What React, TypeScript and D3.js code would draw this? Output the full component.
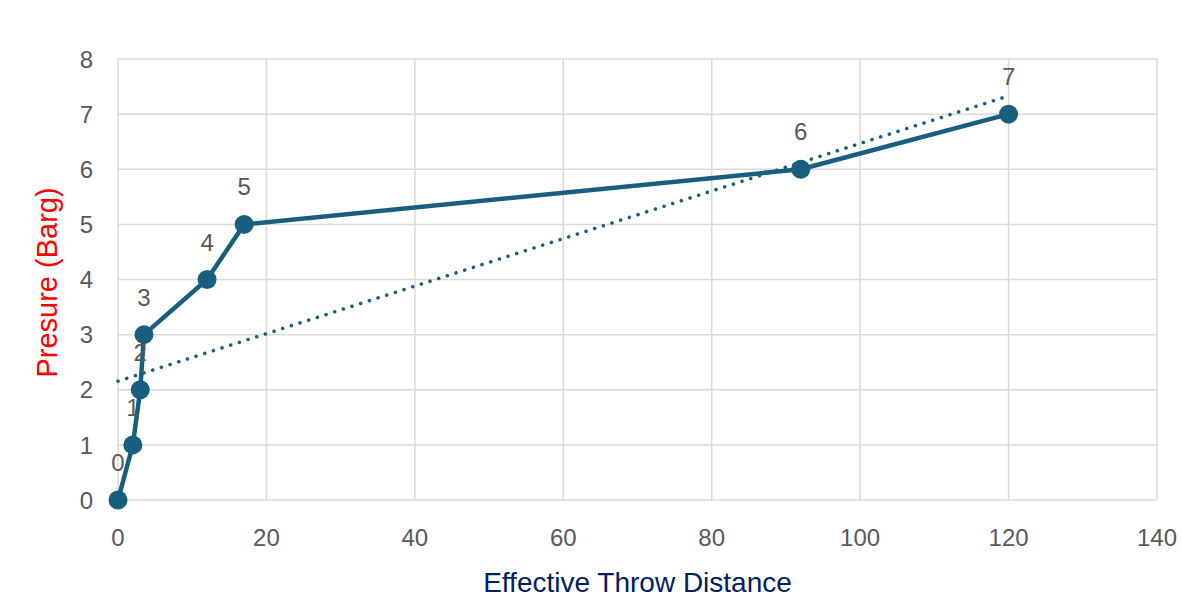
import { FC, useEffect, useRef } from 'react';
import * as d3 from 'd3';

const distances = [0, 2, 3, 3.5, 12, 17, 92, 120];
const pressures = [0, 1, 2, 3, 4, 5, 6, 7];
const xTicks = [0, 20, 40, 60, 80, 100, 120, 140];
const yTicks = [0, 1, 2, 3, 4, 5, 6, 7, 8];

const WIDTH = 1182;
const HEIGHT = 610;
const LINE_COLOR = '#175e7f';
const TEXT_COLOR = '#595959';
const FONT = '"Liberation Sans", Arial, sans-serif';

const App: FC = () => {
  const ref = useRef<SVGSVGElement>(null);

  useEffect(() => {
    const margin = { top: 59, right: 25, bottom: 110, left: 118 };
    const w = WIDTH - margin.left - margin.right;
    const h = HEIGHT - margin.top - margin.bottom;

    const root = d3.select(ref.current);
    root.selectAll('*').remove();
    const svg = root.append('g').attr('transform', `translate(${margin.left},${margin.top})`);

    const xScale = d3.scaleLinear().domain([0, 140]).range([0, w]);
    const yScale = d3.scaleLinear().domain([0, 8]).range([h, 0]);

    //Grid
    svg
      .append('g')
      .selectAll('line')
      .data(xTicks)
      .join('line')
      .attr('x1', (d) => xScale(d))
      .attr('x2', (d) => xScale(d))
      .attr('y1', 0)
      .attr('y2', h)
      .attr('stroke', '#d9d9d9')
      .attr('stroke-width', 1.5);
    svg
      .append('g')
      .selectAll('line')
      .data(yTicks)
      .join('line')
      .attr('x1', 0)
      .attr('x2', w)
      .attr('y1', (d) => yScale(d))
      .attr('y2', (d) => yScale(d))
      .attr('stroke', '#d9d9d9')
      .attr('stroke-width', 1.5);

    //Tick labels
    svg
      .append('g')
      .selectAll('text')
      .data(xTicks)
      .join('text')
      .attr('x', (d) => xScale(d))
      .attr('y', h + 46)
      .attr('text-anchor', 'middle')
      .attr('font-family', FONT)
      .attr('font-size', 24)
      .attr('fill', TEXT_COLOR)
      .text((d) => d);
    svg
      .append('g')
      .selectAll('text')
      .data(yTicks)
      .join('text')
      .attr('x', -25)
      .attr('y', (d) => yScale(d))
      .attr('dy', '0.36em')
      .attr('text-anchor', 'end')
      .attr('font-family', FONT)
      .attr('font-size', 24)
      .attr('fill', TEXT_COLOR)
      .text((d) => d);

    //Axis titles
    svg
      .append('text')
      .attr('x', w / 2)
      .attr('y', h + 92)
      .attr('text-anchor', 'middle')
      .attr('font-family', FONT)
      .attr('font-size', 28)
      .attr('fill', '#002060')
      .text('Effective Throw Distance');
    svg
      .append('text')
      .attr('transform', `translate(-61,${h / 2 + 3}) rotate(-90)`)
      .attr('text-anchor', 'middle')
      .attr('font-family', FONT)
      .attr('font-size', 29)
      .attr('fill', '#ff0000')
      .text('Presure (Barg)');

    const data = distances.map((x, i) => ({ x, y: pressures[i] }));

    //Linear trendline (least squares)
    const mx = d3.mean(distances) as number;
    const my = d3.mean(pressures) as number;
    const sxy = d3.sum(data, (d) => (d.x - mx) * (d.y - my));
    const sxx = d3.sum(data, (d) => (d.x - mx) ** 2);
    const slope = sxy / sxx;
    const intercept = my - slope * mx;
    const xMax = d3.max(distances) as number;
    svg
      .append('line')
      .attr('x1', xScale(0))
      .attr('y1', yScale(intercept))
      .attr('x2', xScale(xMax))
      .attr('y2', yScale(intercept + slope * xMax))
      .attr('stroke', LINE_COLOR)
      .attr('stroke-width', 3.5)
      .attr('stroke-linecap', 'round')
      .attr('stroke-dasharray', '0.1 9');

    //Series line
    const line = d3
      .line<{ x: number; y: number }>()
      .x((d) => xScale(d.x))
      .y((d) => yScale(d.y));
    svg
      .append('path')
      .datum(data)
      .attr('fill', 'none')
      .attr('stroke', LINE_COLOR)
      .attr('stroke-width', 4.5)
      .attr('stroke-linejoin', 'round')
      .attr('d', line);

    svg
      .append('g')
      .selectAll('circle')
      .data(data)
      .join('circle')
      .attr('cx', (d) => xScale(d.x))
      .attr('cy', (d) => yScale(d.y))
      .attr('r', 9.5)
      .attr('fill', LINE_COLOR);

    //Data labels
    svg
      .append('g')
      .selectAll('text')
      .data(data)
      .join('text')
      .attr('x', (d) => xScale(d.x))
      .attr('y', (d) => yScale(d.y) - 29)
      .attr('text-anchor', 'middle')
      .attr('font-family', FONT)
      .attr('font-size', 24)
      .attr('fill', TEXT_COLOR)
      .text((d) => d.y);
  }, []);

  return (
    <svg
      ref={ref}
      width={WIDTH}
      height={HEIGHT}
      style={{ position: 'absolute', left: 0, top: 0, background: '#fff' }}
    />
  );
};

export default App;
